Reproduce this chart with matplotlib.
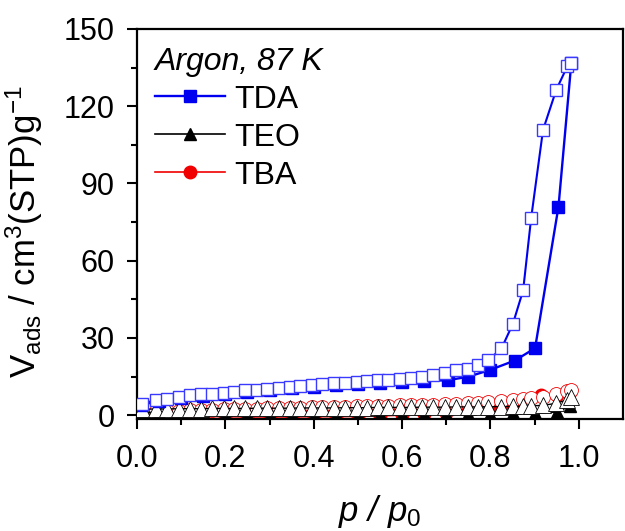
import numpy as np
import matplotlib
matplotlib.use("Agg")
import matplotlib.pyplot as plt
from matplotlib.ticker import MultipleLocator

plt.rcParams['font.family'] = ['Liberation Sans', 'DejaVu Sans']
plt.rcParams['mathtext.fontset'] = 'custom'
plt.rcParams['mathtext.rm'] = 'Liberation Sans'
plt.rcParams['mathtext.it'] = 'Liberation Sans:italic'

# TDA adsorption (filled) / desorption (open)
p_tda_ads = [0.01, 0.05, 0.10, 0.15, 0.20, 0.25, 0.30, 0.35, 0.40, 0.45, 0.50,
             0.55, 0.60, 0.65, 0.704, 0.749, 0.798, 0.855, 0.901, 0.954, 0.983]
v_tda_ads = [4.0, 5.5, 6.6, 7.5, 8.3, 9.1, 9.8, 10.4, 11.0, 11.6, 12.0,
             12.5, 12.9, 13.2, 13.6, 14.9, 17.5, 21.2, 26.0, 81.0, 136.8]

p_des = [0.012, 0.042, 0.069, 0.095, 0.121, 0.144, 0.170, 0.196, 0.219, 0.245,
         0.272, 0.294, 0.321, 0.347, 0.369, 0.396, 0.418, 0.445, 0.471, 0.497,
         0.520, 0.546, 0.569, 0.595, 0.621, 0.644, 0.670, 0.697, 0.723, 0.749,
         0.772, 0.795, 0.825, 0.851, 0.874, 0.892, 0.919, 0.949, 0.974, 0.983]
v_tda_des = [4.5, 5.8, 6.4, 7.0, 7.7, 8.1, 8.4, 8.6, 9.0, 9.7,
             9.9, 10.3, 10.7, 10.9, 11.2, 11.6, 12.0, 12.3, 12.5, 12.9,
             13.3, 13.5, 13.8, 14.2, 14.4, 14.8, 15.5, 16.4, 17.4, 18.1,
             19.4, 21.3, 25.9, 35.6, 48.5, 76.4, 110.8, 126.4, 135.5, 136.8]

# TEO
p_teo_ads = [0.01, 0.05, 0.10, 0.15, 0.20, 0.25, 0.30, 0.35, 0.40, 0.45, 0.50,
             0.55, 0.60, 0.65, 0.70, 0.75, 0.80, 0.85, 0.90, 0.95, 0.98]
v_teo_ads = [1.5, 0.6, 0.4, 0.3, 0.3, 0.3, 0.3, 0.3, 0.3, 0.3, 0.4,
             0.4, 0.4, 0.5, 0.5, 0.5, 0.6, 0.7, 0.8, 1.2, 3.5]
v_teo_des = [2.3, 2.4, 2.4, 2.5, 2.5, 2.5, 2.6, 2.6, 2.6, 2.6,
             2.7, 2.7, 2.7, 2.7, 2.8, 2.8, 2.8, 2.8, 2.9, 2.9,
             2.9, 3.0, 3.0, 3.0, 3.0, 3.1, 3.1, 3.1, 3.2, 3.2,
             3.2, 3.3, 3.3, 3.4, 3.5, 3.6, 3.8, 4.6, 6.0, 7.0]

# TBA
p_tba_ads = [0.01, 0.05, 0.10, 0.15, 0.20, 0.25, 0.30, 0.35, 0.40, 0.45, 0.50,
             0.55, 0.60, 0.65, 0.70, 0.75, 0.80, 0.85, 0.914, 0.95, 0.98]
v_tba_ads = [0.5, 0.0, -0.3, -0.5, -0.6, -0.7, -0.7, -0.7, -0.6, -0.6, -0.5,
             -0.3, 0.0, 0.5, 1.0, 1.5, 2.2, 3.0, 7.8, 8.0, 9.0]
v_tba_des = [1.5, 1.6, 1.7, 1.8, 1.9, 2.0, 2.1, 2.2, 2.3, 2.4,
             2.5, 2.6, 2.7, 2.8, 2.9, 3.0, 3.1, 3.2, 3.3, 3.4,
             3.5, 3.6, 3.7, 3.8, 3.9, 4.0, 4.1, 4.3, 4.5, 4.7,
             4.9, 5.1, 5.4, 5.8, 6.2, 6.6, 7.2, 8.2, 9.2, 9.7]

blue = '#0000f0'
red = '#f00000'

fig = plt.figure(figsize=(6.25, 5.31), dpi=100)
ax = fig.add_axes([0.2192, 0.2109, 0.7776, 0.7345])

# TBA (bottom layer)
ax.plot(p_tba_ads, v_tba_ads, color=red, lw=1.2, marker='o', ms=9,
        mfc=red, mec=red, label='TBA', zorder=2)
ax.plot(p_des, v_tba_des, color=red, lw=1.0, marker='o', ms=10,
        mfc='white', mec=red, mew=0.6, zorder=2)
# TEO
ax.plot(p_teo_ads, v_teo_ads, color='black', lw=1.2, marker='^', ms=8,
        mfc='black', mec='black', label='TEO', zorder=3)
ax.plot(p_des, v_teo_des, color='black', lw=1.0, marker='^', ms=12,
        mfc='white', mec='black', mew=0.6, zorder=3)
# TDA (top)
ax.plot(p_tda_ads, v_tda_ads, color=blue, lw=1.7, marker='s', ms=8,
        mfc=blue, mec=blue, label='TDA', zorder=4)
ax.plot(p_des, v_tda_des, color=blue, lw=1.5, marker='s', ms=8.5,
        mfc='white', mec='#3a3aff', mew=1.0, zorder=5)

ax.set_xlim(0, 1.1)
ax.set_ylim(-1.5, 150)
ax.set_xticks(np.arange(0, 1.01, 0.2))
ax.set_xticks(np.arange(0.1, 1.0, 0.2), minor=True)
ax.yaxis.set_major_locator(MultipleLocator(30))
ax.yaxis.set_minor_locator(MultipleLocator(15))
ax.tick_params(axis='both', which='major', direction='out', length=7, width=1.5,
               labelsize=22)
ax.tick_params(axis='x', which='major', pad=11)
ax.tick_params(axis='y', which='major', pad=9)
ax.tick_params(axis='both', which='minor', direction='out', length=4, width=1.5)
for s in ax.spines.values():
    s.set_linewidth(1.6)

ax.set_xlabel(r'p / p$_{\mathit{0}}$', fontsize=25, style='italic', labelpad=14)
ax.set_ylabel(r'V$_{\rm ads}$ / cm$^3$(STP)g$^{-1}$', fontsize=25)
ax.yaxis.set_label_coords(-0.19, 0.48)

h, l = ax.get_legend_handles_labels()
order = [2, 1, 0]
leg = ax.legend([h[i] for i in order], [l[i] for i in order], loc='upper left',
                frameon=False, fontsize=23, handlelength=2.2, handletextpad=0.3,
                labelspacing=0.25, borderaxespad=0.3, borderpad=0.25,
                title='Argon, 87 K', title_fontproperties={'style': 'italic', 'size': 23},
                alignment='left')

fig.savefig('out.png', dpi=100)
